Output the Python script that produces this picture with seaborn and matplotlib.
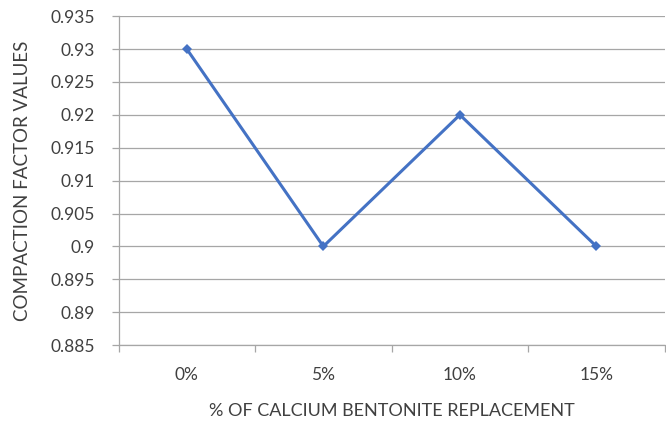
import matplotlib
matplotlib.use("Agg")
import matplotlib.pyplot as plt
import seaborn as sns
import pandas as pd
import numpy as np

categories = ["0%", "5%", "10%", "15%"]
values = [0.93, 0.90, 0.92, 0.90]
y_ticks = [0.885, 0.89, 0.895, 0.9, 0.905, 0.91, 0.915, 0.92, 0.925, 0.93, 0.935]
y_tick_labels = ["0.885", "0.89", "0.895", "0.9", "0.905", "0.91", "0.915", "0.92", "0.925", "0.93", "0.935"]

sns.set_style("white")
plt.rcParams['font.family'] = ['Lato', 'DejaVu Sans']

df = pd.DataFrame({"cat": categories, "val": values, "x": np.arange(len(categories))})

fig = plt.figure(figsize=(6.66, 4.25), dpi=100)
ax = fig.add_axes([0.178, 0.188, 0.820, 0.774])

sns.lineplot(data=df, x="x", y="val", ax=ax, color="#4472C4", linewidth=2.2,
             marker="D", markersize=5.5, markeredgewidth=0, sort=False)

ax.set_xlim(-0.5, len(categories) - 0.5)
ax.set_ylim(y_ticks[0], y_ticks[-1])
ax.set_yticks(y_ticks)
ax.set_yticklabels(y_tick_labels)
ax.set_xticks(np.arange(len(categories)))
ax.set_xticklabels(categories)
ax.set_xticks(np.arange(-0.5, len(categories)), minor=True)

ax.yaxis.grid(True, color="#A6A6A6", linewidth=0.9)
ax.xaxis.grid(False)
for s in ["top", "right"]:
    ax.spines[s].set_visible(False)
ax.spines["left"].set_color("#A6A6A6")
ax.spines["bottom"].set_color("#A6A6A6")
ax.spines["left"].set_linewidth(0.9)
ax.spines["bottom"].set_linewidth(0.9)

ax.tick_params(axis="y", which="major", length=5, color="#A6A6A6", width=0.9,
               labelsize=12.5, labelcolor="#404040", pad=12, left=True)
ax.tick_params(axis="x", which="major", length=0, labelsize=12.5, labelcolor="#404040", pad=16)
ax.tick_params(axis="x", which="minor", length=5, color="#A6A6A6", width=0.9, bottom=True)

ax.set_xlabel("% OF CALCIUM BENTONITE REPLACEMENT", fontsize=13, color="#404040", labelpad=14)
ax.set_ylabel("COMPACTION FACTOR VALUES", fontsize=13.5, color="#404040", labelpad=14)

fig.savefig("out.png", dpi=100)
